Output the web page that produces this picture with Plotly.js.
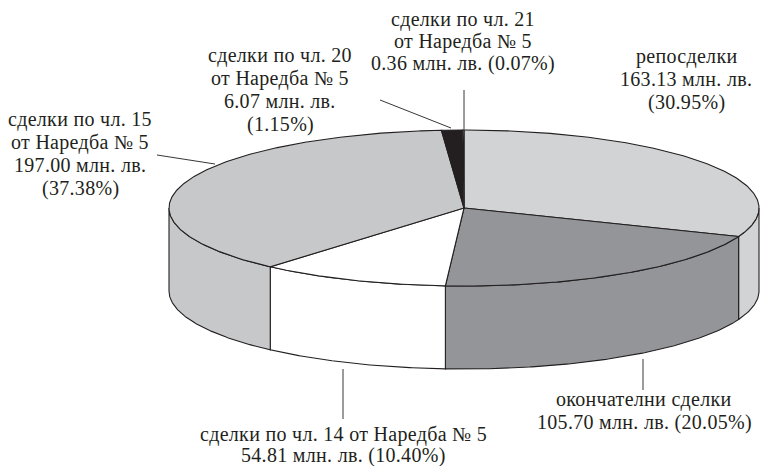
<!DOCTYPE html>
<html><head><meta charset="utf-8">
<script src="https://cdn.plot.ly/plotly-3.0.1.min.js"></script>
<style>html,body{margin:0;padding:0;background:#fff}#c{width:764px;height:466px}
.annotation-text{letter-spacing:.3px}</style>
</head><body><div id="c"></div>
<script>
const categories = ["репосделки","окончателни сделки","сделки по чл. 14 от Наредба № 5","сделки по чл. 15 от Наредба № 5","сделки по чл. 20 от Наредба № 5","сделки по чл. 21 от Наредба № 5"];
const values = [163.13,105.70,54.81,197.00,6.07,0.36];
const sliceColors = ["#d1d3d4","#939598","#ffffff","#c7c8ca","#231f20","#ffffff"];
const labelLines = [
  ["репосделки","163.13 млн. лв.","(30.95%)"],
  ["окончателни сделки","105.70 млн. лв. (20.05%)"],
  ["сделки по чл. 14 от Наредба № 5","54.81 млн. лв. (10.40%)"],
  ["сделки по чл. 15","от Наредба № 5","197.00 млн. лв.","(37.38%)"],
  ["сделки по чл. 20","от Наредба № 5","6.07 млн. лв.","(1.15%)"],
  ["сделки по чл. 21","от Наредба № 5","0.36 млн. лв. (0.07%)"]
];
const labelX = [686,644,343,80,280,463];
const labelY = [[56,79,102],[399,422],[434,455],[119,142,165,188],[55,78,101,124],[19,41,63]];
const leaders = [[[643,359],[643,390]],[[343,369],[343,419]],[[157,155],[215,164]],[[380,100],[451,128]],[[464,90],[464,129]]];

const cx=464, cy=208, rx=295, ry=78, depth=83, ink="#231f20";
const px=a=>cx+rx*Math.sin(a*Math.PI/180);
const py=(a,d)=>cy-ry*Math.cos(a*Math.PI/180)+d;
function arc(a0,a1,d){const xs=[],ys=[];const n=Math.max(2,Math.ceil(Math.abs(a1-a0)/0.5));
  for(let i=0;i<=n;i++){const a=a0+(a1-a0)*i/n;xs.push(px(a));ys.push(py(a,d));}return [xs,ys];}
const total=values.reduce((s,v)=>s+v,0);
const traces=[];let cum=0;const spans=values.map(v=>{const s=[cum,cum+v/total*360];cum=s[1];return s;});
const base={type:"scatter",mode:"lines",fill:"toself",hoverinfo:"skip",showlegend:false};
spans.forEach((s,i)=>{const a0=Math.max(s[0],90),a1=Math.min(s[1],270);
  if(a1>a0){const t=arc(a0,a1,0),b=arc(a1,a0,depth);
    traces.push({...base,name:categories[i],x:[...t[0],...b[0],t[0][0]],y:[...t[1],...b[1],t[1][0]],
      fillcolor:sliceColors[i],line:{color:ink,width:1.1}});}
});
spans.forEach((s,i)=>{const t=arc(s[0],s[1],0);
  traces.push({...base,name:categories[i],x:[cx,...t[0],cx],y:[cy,...t[1],cy],
    fillcolor:sliceColors[i],line:{color:ink,width:1.1}});
});
const shapes=leaders.map(l=>({type:"line",xref:"x",yref:"y",x0:l[0][0],y0:l[0][1],x1:l[1][0],y1:l[1][1],line:{color:"#3a3637",width:1}}));
const annotations=[];
labelLines.forEach((lines,i)=>lines.forEach((t,j)=>annotations.push({xref:"x",yref:"y",x:labelX[i],y:labelY[i][j],text:t,showarrow:false,
  xanchor:"center",yanchor:"middle",font:{family:"Liberation Serif, serif",size:20,color:ink}})));
Plotly.newPlot("c",traces,{width:764,height:466,margin:{l:0,r:0,t:0,b:0},paper_bgcolor:"#fff",plot_bgcolor:"#fff",showlegend:false,
  xaxis:{range:[0,764],visible:false,fixedrange:true},yaxis:{range:[466,0],visible:false,fixedrange:true},shapes,annotations},{displayModeBar:false,staticPlot:true});
</script></body></html>
